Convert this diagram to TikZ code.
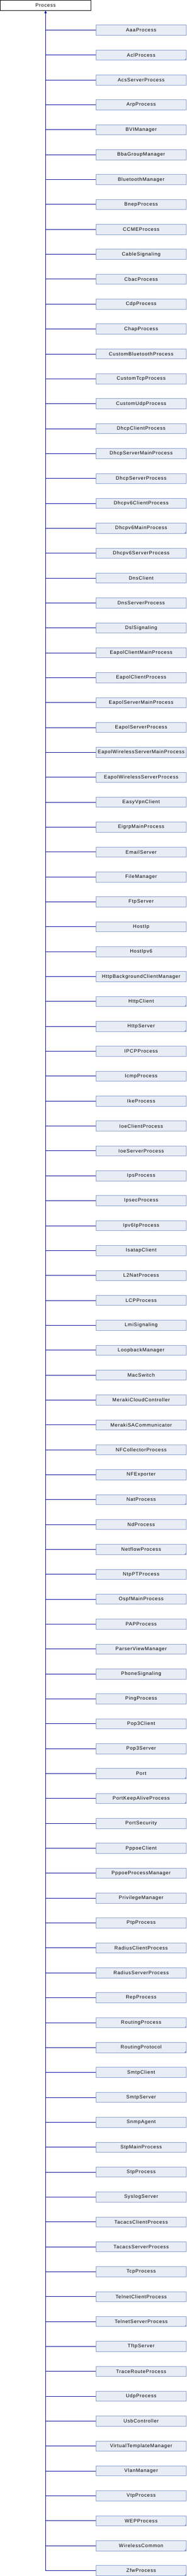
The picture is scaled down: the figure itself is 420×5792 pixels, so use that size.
\documentclass[tikz,border=0pt]{standalone}
\usepackage{fontspec}
\setmainfont{Liberation Sans}[LetterSpace=9]
\usetikzlibrary{arrows.meta}
\definecolor{boxfill}{RGB}{232,236,245}
\definecolor{boxline}{RGB}{132,155,208}
\definecolor{edgecol}{RGB}{0,0,155}
\tikzset{
  basebox/.style={draw=black, fill=white, line width=1pt, minimum width=203pt, minimum height=22.6pt, inner sep=0pt, font=\fontsize{11}{13}\selectfont},
  kidbox/.style={draw=boxline, fill=boxfill, line width=1pt, minimum width=203.2pt, minimum height=22.6pt, inner sep=0pt, font=\fontsize{11}{13}\selectfont},
  edge/.style={draw=edgecol, line width=1.1pt},
  moremark/.style={fill=boxline}
}
\begin{document}
\begin{tikzpicture}[x=1pt,y=-1pt]
\useasboundingbox (0,0) rectangle (420,5792);
\node[basebox] (P) at (102.5,11.8) {Process};
\foreach \nm [count=\i] in {AaaProcess,AclProcess,AcsServerProcess,ArpProcess,BVIManager,BbaGroupManager,BluetoothManager,BnepProcess,CCMEProcess,CableSignaling,CbacProcess,CdpProcess,ChapProcess,CustomBluetoothProcess,CustomTcpProcess,CustomUdpProcess,DhcpClientProcess,DhcpServerMainProcess,DhcpServerProcess,Dhcpv6ClientProcess,Dhcpv6MainProcess,Dhcpv6ServerProcess,DnsClient,DnsServerProcess,DslSignaling,EapolClientMainProcess,EapolClientProcess,EapolServerMainProcess,EapolServerProcess,EapolWirelessServerMainProcess,EapolWirelessServerProcess,EasyVpnClient,EigrpMainProcess,EmailServer,FileManager,FtpServer,HostIp,HostIpv6,HttpBackgroundClientManager,HttpClient,HttpServer,IPCPProcess,IcmpProcess,IkeProcess,IoeClientProcess,IoeServerProcess,IpsProcess,IpsecProcess,Ipv6IpProcess,IsatapClient,L2NatProcess,LCPProcess,LmiSignaling,LoopbackManager,MacSwitch,MerakiCloudController,MerakiSACommunicator,NFCollectorProcess,NFExporter,NatProcess,NdProcess,NetflowProcess,NtpPTProcess,OspfMainProcess,PAPProcess,ParserViewManager,PhoneSignaling,PingProcess,Pop3Client,Pop3Server,Port,PortKeepAliveProcess,PortSecurity,PppoeClient,PppoeProcessManager,PrivilegeManager,PtpProcess,RadiusClientProcess,RadiusServerProcess,RepProcess,RoutingProcess,RoutingProtocol,SmtpClient,SmtpServer,SnmpAgent,StpMainProcess,StpProcess,SyslogServer,TacacsClientProcess,TacacsServerProcess,TcpProcess,TelnetClientProcess,TelnetServerProcess,TftpServer,TraceRouteProcess,UdpProcess,UsbController,VirtualTemplateManager,VlanManager,VtpProcess,WEPProcess,WirelessCommon,ZfwProcess}
{
  \node[kidbox] (c\i) at (317.4,{67.8+56*(\i-1)}) {\nm};
  \draw[edge] (c\i.west) -- (P.south |- c\i.west);
}
\foreach \k in {2,21,40,41,60,62,71,72,81,82,93,101,102,103}
{
  \fill[moremark] ([xshift=-5pt,yshift=0.5pt]c\k.south east) -- ([xshift=-0.5pt,yshift=0.5pt]c\k.south east) -- ([xshift=-0.5pt,yshift=5pt]c\k.south east) -- cycle;
}
\draw[edge, -{Triangle[width=5pt,length=6pt]}] (P.south |- c103.west) -- (P.south);
\end{tikzpicture}
\end{document}
